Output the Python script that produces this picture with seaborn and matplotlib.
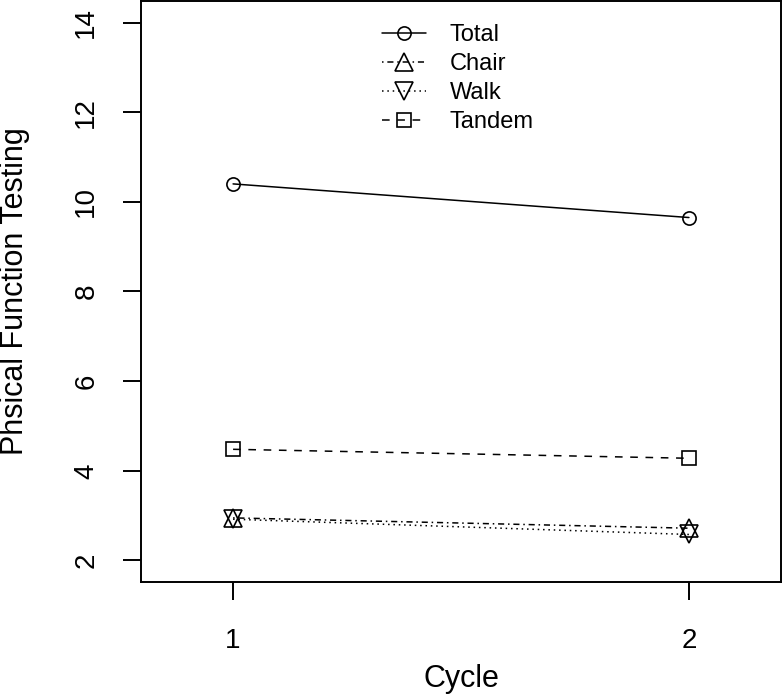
import pandas as pd
import numpy as np
import matplotlib
matplotlib.use('Agg')
import matplotlib.pyplot as plt
import seaborn as sns

# values
cycle = [1, 2]
total = [10.40, 9.65]
chair = [2.95, 2.72]
walk = [2.92, 2.58]
tandem = [4.48, 4.28]

series_names = ['Total', 'Chair', 'Walk', 'Tandem']
series_values = [total, chair, walk, tandem]
series_markers = ['o', '^', 'v', 's']
series_styles = ['-', (0, (1, 2.5, 4, 2.5)), (0, (1, 2.5)), (0, (5, 5))]

sns.set_style('white')
plt.rcParams['font.family'] = ['Liberation Sans', 'DejaVu Sans']
plt.rcParams['text.color'] = 'black'
plt.rcParams['axes.labelcolor'] = 'black'

fig = plt.figure(figsize=(7.84, 6.96), dpi=100)
ax = fig.add_axes([141 / 784, 1 - 582 / 696, 640 / 784, 581 / 696])

marker_sizes = {'o': 9.5, '^': 12.5, 'v': 12.5, 's': 10}
for name, vals, mk, ls in zip(series_names, series_values, series_markers, series_styles):
    sns.lineplot(x=cycle, y=vals, ax=ax, color='black', linestyle=ls, lw=1.1,
                 marker=mk, markersize=marker_sizes[mk],
                 markerfacecolor='none', markeredgecolor='black',
                 markeredgewidth=1.2, label=name)

ax.set_xlim(0.798, 2.202)
ax.set_ylim(1.52, 14.48)
ax.set_xticks([1, 2])
ax.set_yticks([2, 4, 6, 8, 10, 12, 14])

for side in ['left', 'right', 'top', 'bottom']:
    ax.spines[side].set_visible(True)
    ax.spines[side].set_color('black')
    ax.spines[side].set_linewidth(1.4)

ax.tick_params(axis='both', direction='out', length=13, width=1.4, colors='black',
               labelsize=20, bottom=True, left=True, top=False, right=False)
ax.tick_params(axis='y', pad=17)
ax.tick_params(axis='x', pad=20)
for lab in ax.get_yticklabels():
    lab.set_rotation(90)
    lab.set_va('center')

ax.set_xlabel('Cycle', fontsize=22)
ax.set_ylabel('Phsical Function Testing', fontsize=22)
ax.xaxis.set_label_coords(0.5, -0.141)
ax.yaxis.set_label_coords(-0.174, 0.5)

ax.legend(loc='upper center', bbox_to_anchor=(0.4953, 1.0), frameon=False, fontsize=17,
          handlelength=1.85, handletextpad=1.0, labelspacing=0.3, numpoints=1,
          borderaxespad=0.58)

fig.savefig('out.png', dpi=100)
